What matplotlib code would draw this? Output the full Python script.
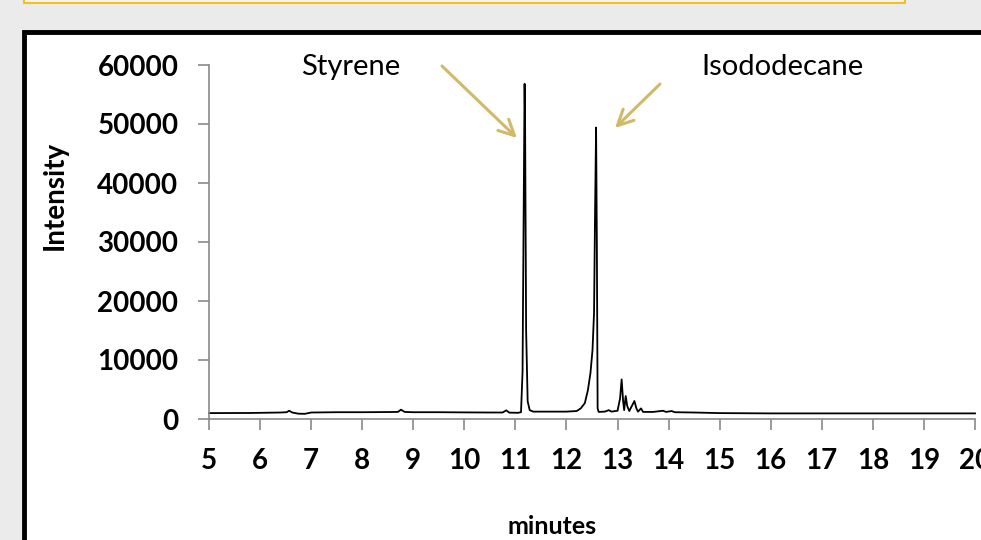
import matplotlib
matplotlib.use("Agg")
import matplotlib.pyplot as plt
from matplotlib.patches import Rectangle

# chromatogram trace
times = [5.0, 5.8, 6.4, 6.52, 6.57, 6.63, 6.75, 6.88, 7.0, 7.5, 8.0, 8.5,
         8.70, 8.76, 8.83, 9.0, 9.5, 10.0, 10.5, 10.75, 10.82, 10.88, 11.05,
         11.11, 11.14, 11.17, 11.18, 11.19, 11.21, 11.24, 11.28, 11.35, 11.6,
         12.0, 12.2, 12.28, 12.36, 12.42, 12.47, 12.51, 12.54, 12.56, 12.58,
         12.595, 12.61, 12.63, 12.75, 12.83, 12.88, 13.0, 13.05, 13.08, 13.11,
         13.13, 13.16, 13.19, 13.23, 13.28, 13.33, 13.37, 13.40, 13.46, 13.50,
         13.7, 13.89, 13.95, 14.06, 14.12, 14.5, 15.0, 16.0, 17.0, 18.0, 19.0,
         20.0]
intensity = [1000, 1020, 1100, 1150, 1400, 1100, 900, 880, 1100, 1150, 1150,
             1180, 1200, 1580, 1200, 1150, 1150, 1120, 1100, 1100, 1470, 1080,
             1050, 1150, 8000, 45000, 56800, 50000, 15000, 3000, 1500, 1250,
             1250, 1250, 1350, 1800, 2700, 4900, 7800, 11700, 18000, 35000,
             49400, 30000, 1800, 1200, 1250, 1500, 1250, 1400, 3500, 6700, 3000,
             1500, 3900, 2200, 1350, 2200, 3050, 1800, 1240, 1800, 1200, 1200,
             1400, 1200, 1350, 1150, 1100, 1000, 950, 950, 950, 950, 950]

x_ticks = list(range(5, 21))
y_ticks = [0, 10000, 20000, 30000, 40000, 50000, 60000]

W, H = 981, 540
gold = "#d2b96a"
gray = "#8a8a8a"

fig = plt.figure(figsize=(W / 100, H / 100), dpi=100)
fig.patch.set_facecolor("#ebebeb")


def fx(px):
    return px / W


def fy(py):
    return 1 - py / H


# yellow box at the top and the white panel, kept under the axes
fig.patches.append(Rectangle((fx(24), fy(3)), fx(905) - fx(24), 0.05,
                             transform=fig.transFigure, facecolor="#f4f4f4",
                             edgecolor="#f2c21b", linewidth=1.5, zorder=-5))
fig.patches.append(Rectangle((fx(24), fy(560)), 1.2, fy(32) - fy(560),
                             transform=fig.transFigure, facecolor="white",
                             edgecolor="black", linewidth=3.5, zorder=-5))

ax = fig.add_axes([fx(209), fy(419), fx(975) - fx(209), fy(65) - fy(419)])
ax.set_facecolor("none")
ax.plot(times, intensity, color="black", linewidth=1.3, clip_on=False)
ax.set_xlim(5, 20)
ax.set_ylim(0, 60000)
ax.set_xticks(x_ticks)
ax.set_yticks(y_ticks)
for s in ["top", "right"]:
    ax.spines[s].set_visible(False)
for s in ["left", "bottom"]:
    ax.spines[s].set_color(gray)
    ax.spines[s].set_linewidth(1.2)
ax.tick_params(axis="both", direction="out", length=8, width=1.2, color=gray)
ax.tick_params(axis="x", pad=13)
ax.tick_params(axis="y", pad=14)
for lab in ax.get_xticklabels() + ax.get_yticklabels():
    lab.set_fontfamily("Lato")
    lab.set_fontweight("bold")
    lab.set_fontsize(20)

fig.text(fx(55), fy(195), "Intensity", rotation=90, ha="center", va="center",
         family="Lato", weight="bold", fontsize=20)
fig.text(fx(552), fy(527), "minutes", ha="center", va="center",
         family="Lato", weight="bold", fontsize=18)

fig.text(fx(351), fy(67), "Styrene", ha="center", va="center",
         family="Lato", fontsize=21)
fig.text(fx(783), fy(67), "Isododecane", ha="center", va="center",
         family="Lato", fontsize=21)

ax.annotate("", xy=(517, H - 138), xycoords="figure pixels",
            xytext=(442, H - 66), textcoords="figure pixels",
            arrowprops=dict(arrowstyle="->", color=gold, lw=2.2,
                            mutation_scale=28, shrinkA=0, shrinkB=0))
ax.annotate("", xy=(615, H - 128), xycoords="figure pixels",
            xytext=(660, H - 84), textcoords="figure pixels",
            arrowprops=dict(arrowstyle="->", color=gold, lw=2.2,
                            mutation_scale=28, shrinkA=0, shrinkB=0))

fig.savefig("out.png", dpi=100, facecolor=fig.get_facecolor())
